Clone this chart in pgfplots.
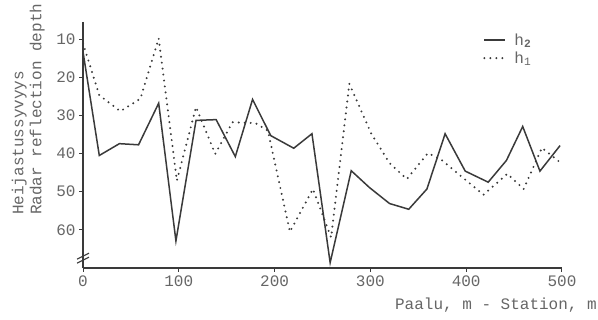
\documentclass[border=0pt]{standalone}
\usepackage{pgfplots}
\pgfplotsset{compat=1.18}
\usepackage{fontspec}
\setmainfont{Liberation Mono}
\definecolor{ink}{HTML}{3A3A3A}
\definecolor{txt}{HTML}{666666}
\begin{document}
\begin{tikzpicture}
\begin{axis}[
  scale only axis, width=479bp, height=246bp,
  xmin=0, xmax=500, ymin=5.5, ymax=70,
  y dir=reverse,
  axis lines*=left,
  axis line style={ink, line width=1.3bp, -},
  xtick={0,100,...,500}, ytick={10,20,...,60},
  tick align=outside, major tick length=4bp,
  tick style={ink, line width=1bp},
  /pgf/number format/assume math mode=true,
  ticklabel style={font=\fontsize{16bp}{18bp}\selectfont, text=txt},
  xticklabel style={yshift=0bp},
  xlabel={Paalu, m - Station, m},
  xlabel style={font=\fontsize{16bp}{18bp}\selectfont, text=txt, inner sep=0pt,
    at={(rel axis cs:1.073,-0.122)}, anchor=north east},
  ylabel={Heijastussyvyys\\Radar reflection depth},
  ylabel style={font=\fontsize{16bp}{18bp}\selectfont, text=txt, inner sep=0pt, align=left,
    at={(rel axis cs:-0.149,0.215)}, anchor=north west},
  legend style={draw=none, fill=none, font=\fontsize{16bp}{18bp}\selectfont, text=txt,
    at={(rel axis cs:0.829,0.970)}, anchor=north west, row sep=1bp,
    legend cell align=left},
  legend image code/.code={\draw[#1] (0bp,0bp) -- (21bp,0bp);},
  clip=false,
]
\addplot[ink, line width=1.5bp, line join=miter] coordinates {
(0,13.3) (17,40.5) (38,37.4) (58,37.7) (79,26.8) (97,62.9) (118,31.3) (139,31.1)
(159,40.8) (177,25.8) (196,35.3) (220,38.6) (239,34.8) (258,68.6) (280,44.5)
(299,48.9) (320,53.1) (340,54.6) (359,49.3) (378,34.8) (399,44.6) (423,47.5)
(442,41.8) (459,32.9) (477,44.6) (498,37.9)
};
\addlegendentry{\hspace{6bp}h\textsubscript{\textbf{2}}}
\addplot[ink, line width=2.2bp, line cap=round, dash pattern=on 0bp off 6bp] coordinates {
(0,11.1) (17,24.7) (39,28.9) (60,25.6) (79,9.8) (98,47.1) (118,27.8) (138,40.1)
(156,31.8) (180,32.0) (193,34.0) (216,60.5) (240,49.3) (259,62.0) (278,21.7)
(301,34.8) (320,42.5) (338,46.7) (360,39.9) (373,41.4) (418,50.8) (443,45.3)
(460,49.3) (479,38.5) (500,42.7)
};
\addlegendentry{\hspace{6bp}h\textsubscript{1}}
% axis break mark
\draw[ink, line width=1.1bp] ([xshift=-6bp,yshift=-4bp]rel axis cs:0,0.052) -- ++(12bp,6bp);
\draw[ink, line width=1.1bp] ([xshift=-6bp,yshift=-8bp]rel axis cs:0,0.052) -- ++(12bp,6bp);
% page extent
\path (rel axis cs:-0.1733,-0.2114) rectangle (rel axis cs:1.0752,1.0894);
\end{axis}
\end{tikzpicture}
\end{document}
